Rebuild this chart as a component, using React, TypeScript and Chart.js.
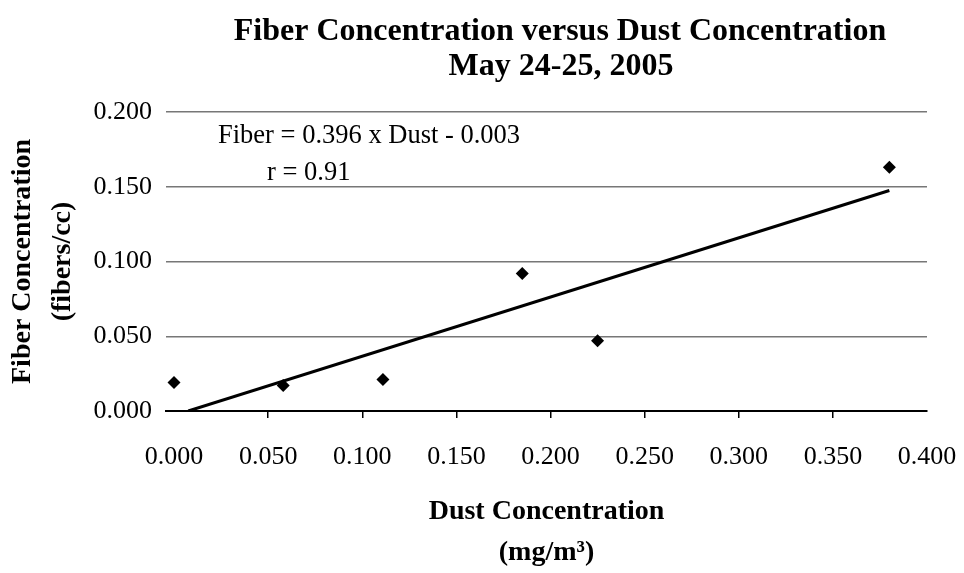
import React, { useEffect, useRef } from "react";
import { Chart, registerables } from "chart.js";

Chart.register(...registerables);

const titleLines = ["Fiber Concentration versus Dust Concentration", "May 24-25, 2005"];
const xTitleLines = ["Dust Concentration", "(mg/m³)"];
const yTitleLines = ["Fiber Concentration", "(fibers/cc)"];
const equationLines = ["Fiber = 0.396 x Dust - 0.003", "r = 0.91"];

const dustValues = [0.0, 0.058, 0.111, 0.185, 0.225, 0.38];
const fiberValues = [0.019, 0.017, 0.021, 0.092, 0.047, 0.163];

const trendSlope = 0.396;
const trendIntercept = -0.003;

const xTickValues = [0, 0.05, 0.1, 0.15, 0.2, 0.25, 0.3, 0.35, 0.4];
const yTickValues = [0, 0.05, 0.1, 0.15, 0.2];

const SERIF = '"Liberation Serif", "Times New Roman", serif';

const textPlugin = {
  id: "textPlugin",
  afterDraw(chart: any) {
    const ctx = chart.ctx;
    ctx.save();
    ctx.fillStyle = "#000";
    ctx.textAlign = "center";
    ctx.textBaseline = "middle";
    ctx.font = `bold 32px ${SERIF}`;
    ctx.fillText(titleLines[0], 560, 32);
    ctx.fillText(titleLines[1], 561, 67);
    ctx.textAlign = "left";
    ctx.font = `26.5px ${SERIF}`;
    ctx.fillText(equationLines[0], 218, 136);
    ctx.fillText(equationLines[1], 267, 173);
    ctx.restore();
  },
};

export default function App() {
  const canvasRef = useRef<HTMLCanvasElement | null>(null);

  useEffect(() => {
    if (!canvasRef.current) return;
    const xEnd = Math.max(...dustValues);
    const xStart = -trendIntercept / trendSlope;
    const trendData = [
      { x: xStart, y: trendSlope * xStart + trendIntercept },
      { x: xEnd, y: trendSlope * xEnd + trendIntercept },
    ];
    const points = dustValues.map((x, i) => ({ x, y: fiberValues[i] }));

    const chart = new Chart(canvasRef.current, {
      type: "scatter",
      data: {
        datasets: [
          {
            label: "Trend",
            data: trendData,
            showLine: true,
            borderColor: "#000",
            borderWidth: 3,
            pointRadius: 0,
            order: 2,
          },
          {
            label: "Fiber",
            data: points,
            pointStyle: "rectRot",
            pointRadius: 6.5,
            backgroundColor: "#000",
            borderColor: "#000",
            borderWidth: 0,
            order: 1,
          },
        ],
      },
      options: {
        responsive: false,
        animation: false,
        devicePixelRatio: 1,
        layout: { padding: { top: 112, right: 37, left: 0, bottom: 0 } },
        plugins: {
          legend: { display: false },
          tooltip: { enabled: false },
          title: { display: false },
        },
        scales: {
          x: {
            type: "linear",
            min: -0.00425,
            max: 0.4,
            afterBuildTicks: (scale: any) => {
              scale.ticks = xTickValues.map((v) => ({ value: v }));
            },
            afterFit: (scale: any) => {
              scale.height = 162;
              scale.paddingLeft = 0;
              scale.paddingRight = 30;
            },
            border: { display: true, color: "#000", width: 2 },
            grid: {
              drawOnChartArea: false,
              drawTicks: true,
              tickLength: 7,
              lineWidth: 1.5,
              color: (c: any) =>
                c.tick && (c.tick.value === 0 || c.tick.value === 0.4) ? "rgba(0,0,0,0)" : "#000",
            },
            ticks: {
              color: "#000",
              padding: 24,
              maxRotation: 0,
              autoSkip: false,
              font: { family: SERIF, size: 26 },
              callback: (v: any) => Number(v).toFixed(3),
            },
            title: {
              display: true,
              text: xTitleLines,
              color: "#000",
              font: { family: SERIF, size: 28, weight: "bold", lineHeight: "41px" } as any,
              padding: { top: 0, bottom: 0 },
            },
          },
          y: {
            type: "linear",
            min: 0,
            max: 0.2,
            afterBuildTicks: (scale: any) => {
              scale.ticks = yTickValues.map((v) => ({ value: v }));
            },
            afterFit: (scale: any) => {
              scale.width = 166;
            },
            border: { display: false },
            grid: {
              drawTicks: false,
              lineWidth: 1.5,
              color: (c: any) => (c.tick && c.tick.value === 0 ? "#000" : "#777"),
            },
            ticks: {
              color: "#000",
              padding: 14,
              autoSkip: false,
              font: { family: SERIF, size: 26 },
              callback: (v: any) => Number(v).toFixed(3),
            },
            title: {
              display: true,
              text: yTitleLines,
              color: "#000",
              font: { family: SERIF, size: 28, weight: "bold", lineHeight: "40px" } as any,
              padding: { top: 3, bottom: 0 },
            },
          },
        },
      },
      plugins: [textPlugin],
    });
    return () => chart.destroy();
  }, []);

  return (
    <div style={{ position: "absolute", left: 0, top: 0, width: 964, height: 573, background: "#fff" }}>
      <canvas ref={canvasRef} width={964} height={573} />
    </div>
  );
}
